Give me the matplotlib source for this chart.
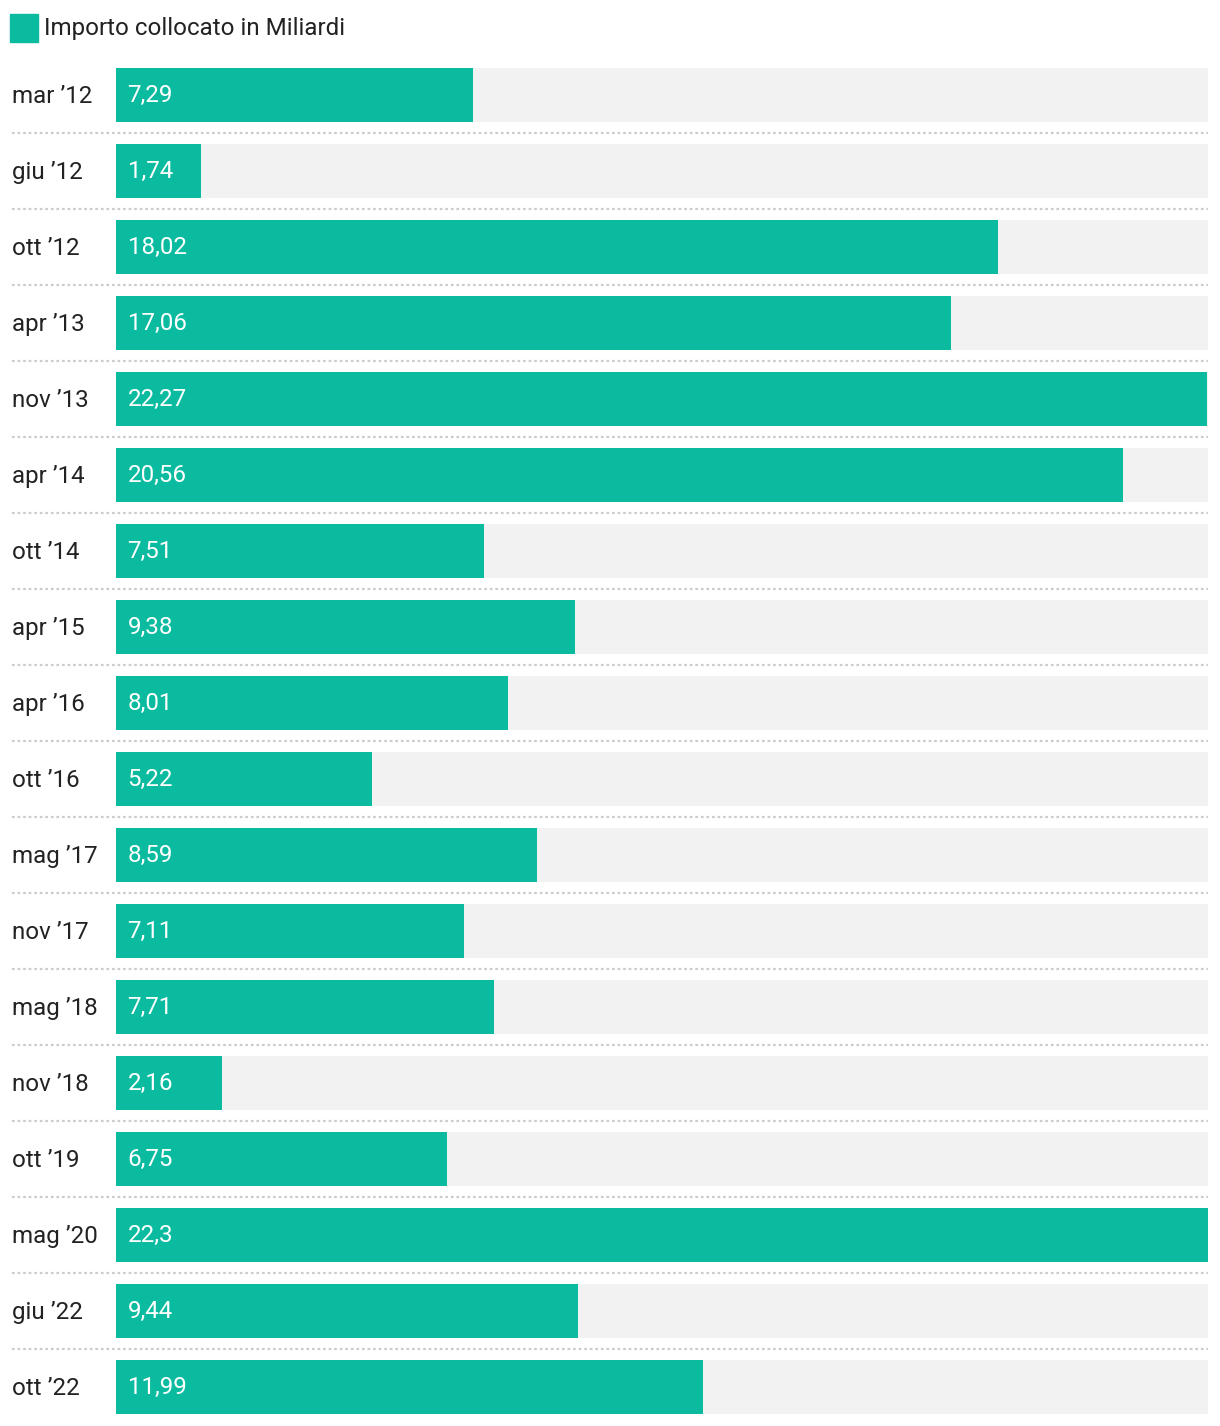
import matplotlib.pyplot as plt
from matplotlib.patches import Rectangle
from matplotlib.transforms import blended_transform_factory

plt.rcParams['font.family'] = ['Roboto', 'DejaVu Sans']

# ---------------------------------------------
# Data
# ---------------------------------------------
labels = ["mar ’12", "giu ’12", "ott ’12", "apr ’13", "nov ’13", "apr ’14",
          "ott ’14", "apr ’15", "apr ’16", "ott ’16", "mag ’17", "nov ’17",
          "mag ’18", "nov ’18", "ott ’19", "mag ’20", "giu ’22", "ott ’22"]
values = [7.29, 1.74, 18.02, 17.06, 22.27, 20.56, 7.51, 9.38, 8.01, 5.22,
          8.59, 7.11, 7.71, 2.16, 6.75, 22.3, 9.44, 11.99]
value_text = ["7,29", "1,74", "18,02", "17,06", "22,27", "20,56", "7,51", "9,38",
              "8,01", "5,22", "8,59", "7,11", "7,71", "2,16", "6,75", "22,3",
              "9,44", "11,99"]
legend_label = "Importo collocato in Miliardi"

TEAL = "#0bbba0"
BG = "#f2f2f2"
W, H = 1220, 1426
FS = 17.4

# ---------------------------------------------
# Figure / axes placed in pixel terms
# ---------------------------------------------
fig = plt.figure(figsize=(W / 100, H / 100), dpi=100)
left_px, right_px = 116, 1208
top_px, bottom_px = 57, 57 + 76 * len(labels)
ax = fig.add_axes([left_px / W, 1 - bottom_px / H,
                   (right_px - left_px) / W, (bottom_px - top_px) / H])
xmax = max(values)
ax.set_xlim(0, xmax)
ax.set_ylim(len(labels) - 0.5, -0.5)
ax.axis("off")

bar_h = 54 / 76
y = list(range(len(labels)))
ax.barh(y, [xmax] * len(labels), height=bar_h, left=0, color=BG)
ax.barh(y, values, height=bar_h, left=0, color=TEAL)

trans = blended_transform_factory(ax.transAxes, ax.transData)
sep_x = (12 - left_px) / (right_px - left_px)
lab_x = (12 - left_px) / (right_px - left_px)
val_x = 11.5 / (right_px - left_px)
for i, (lab, txt) in enumerate(zip(labels, value_text)):
    ax.text(lab_x, i + 0.02, lab, transform=trans, ha="left", va="center",
            fontsize=FS, color="#222222")
    ax.text(val_x, i, txt, transform=trans, ha="left", va="center",
            fontsize=FS, color="white")
    if i < len(labels) - 1:
        ax.plot([sep_x, 1], [i + 0.5, i + 0.5], transform=trans, clip_on=False,
                color="#cccccc", lw=1.6, linestyle=(0, (1.2, 1.3)))

# ---------------------------------------------
# Legend
# ---------------------------------------------
fig.patches.append(Rectangle((10 / W, 1 - 42 / H), 28 / W, 28 / H,
                             transform=fig.transFigure, color=TEAL))
fig.text(44 / W, 1 - 28 / H, legend_label, ha="left", va="center",
         fontsize=FS, color="#222222")

fig.savefig("out.png", dpi=100, facecolor="white")
